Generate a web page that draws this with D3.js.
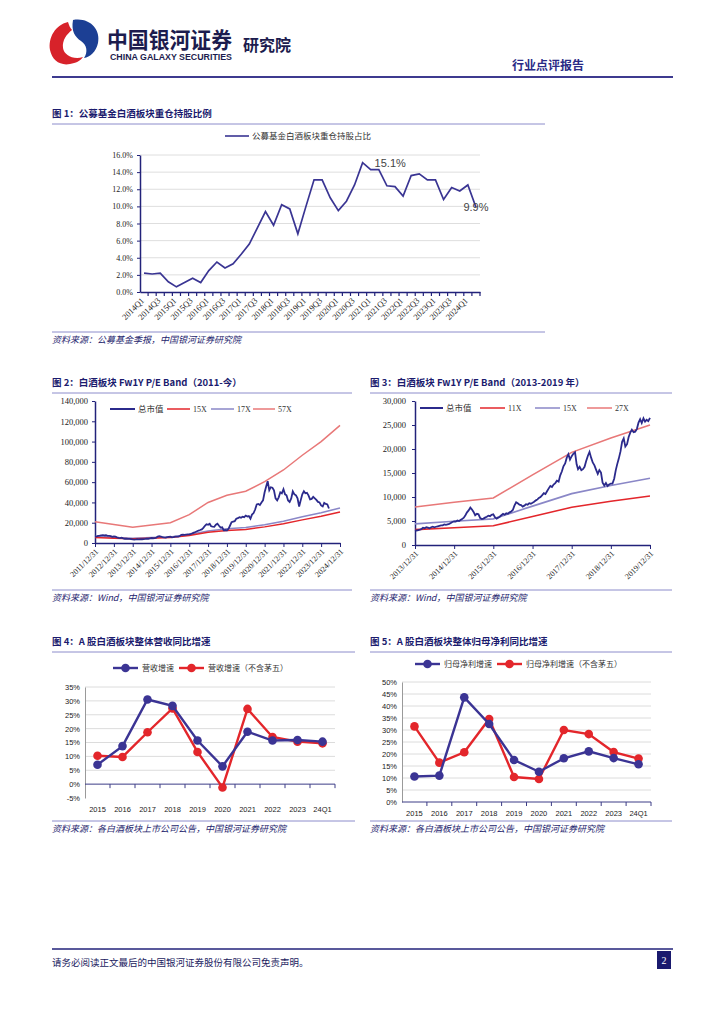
<!DOCTYPE html>
<html>
<head>
<meta charset="utf-8">
<script src="https://cdn.jsdelivr.net/npm/d3@7"></script>
<style>
  body { margin: 0; background: #fff; }
</style>
</head>
<body>
<svg id="page"></svg>
<script>
// ---------- data ----------
// fig 1: fund holdings share of baijiu, quarterly
const quarterLabels = ["2014Q1","2014Q2","2014Q3","2014Q4","2015Q1","2015Q2","2015Q3","2015Q4",
  "2016Q1","2016Q2","2016Q3","2016Q4","2017Q1","2017Q2","2017Q3","2017Q4",
  "2018Q1","2018Q2","2018Q3","2018Q4","2019Q1","2019Q2","2019Q3","2019Q4",
  "2020Q1","2020Q2","2020Q3","2020Q4","2021Q1","2021Q2","2021Q3","2021Q4",
  "2022Q1","2022Q2","2022Q3","2022Q4","2023Q1","2023Q2","2023Q3","2023Q4",
  "2024Q1","2024Q2"];
const fundShare = [2.2,2.1,2.2,1.2,0.6,1.1,1.6,1.1,2.5,3.5,2.8,3.3,4.4,5.6,7.5,9.4,
  7.8,10.2,9.7,6.8,10.0,13.1,13.1,11.0,9.5,10.6,12.5,15.1,14.3,14.3,12.4,12.3,
  11.2,13.6,13.8,13.1,13.1,10.8,12.2,11.8,12.5,9.9];

// fig 2: PE band 2011-now (year-end nodes for bands, month-end market cap)
const bandYears2 = [2011,2012,2013,2014,2015,2016,2017,2018,2019,2020,2021,2022,2023,2024];
const pe15 = [5500,4800,4100,4700,5300,7400,10500,12400,13400,15900,18900,22800,26300,30500];
const pe17 = [6300,5500,4600,5300,6000,8300,11900,14000,15200,18000,21500,25800,29800,34600];
const pe57 = [21000,18300,15500,17800,20000,28000,40000,47000,51000,60500,72000,86500,100000,116000];
const mcap2Start = 6300; // 2011/12/31
const mcap2 = [
  6600,7000,7200,7500,7700,7400,7600,7000,7100,6800,6000,6400,
  6200,5600,5000,4800,5200,4500,4200,4300,4100,4000,3800,3600,
  3400,3500,3700,3600,3800,3700,3900,4000,4300,4200,4600,4900,
  4700,4900,5200,6300,6800,6400,5900,5500,5300,5800,6100,6200,
  5600,5800,6300,6200,6300,6900,8000,8200,8000,8300,8500,8600,
  9000,9500,10200,10800,11600,12300,12800,13400,15000,17000,18500,18000,
  19000,16500,16200,16000,18000,19000,17000,15200,15500,12500,12800,12400,
  14000,17000,20500,21000,21500,24000,24500,25500,25000,26000,25500,27000,
  26000,26500,24000,28000,29500,33000,38000,38500,37500,40000,42000,50000,
  56000,61000,52000,55000,54500,52000,44000,42000,45000,50000,49000,53000,
  48000,47000,42000,40500,44000,51000,48000,47000,44000,36000,42000,48000,
  51000,49000,49500,47000,43000,43500,45500,44000,42500,40500,40000,37000,
  36000,39500,38500,38000,34000];

// fig 3: PE band 2013-2019 (half-month market cap)
const bandYears3 = [2013,2014,2015,2016,2017,2018,2019];
const pe11b = [3200,3600,4000,5950,7850,9100,10200];
const pe15b = [4400,4950,5450,8100,10700,12400,13900];
const pe27b = [7900,8900,9800,14600,19300,22300,25000];
const mcap3Start = 3100; // 2013/12/31
const mcap3 = [
  3000,3100,3200,3300,3600,3500,3700,3600,3500,3700,3800,3700,3800,3900,4000,4100,4100,4300,4200,4300,4400,4600,4800,4900,
  4900,5100,5000,5200,5400,5700,6200,6800,7200,7800,7400,6900,6200,6500,6400,5600,5400,5500,5700,5900,6100,6000,6300,6400,
  5800,5500,5700,5900,6200,6500,6300,6600,6500,6800,7000,7300,8200,8900,8700,8400,8300,8000,8200,8500,8400,8700,8600,8800,
  9000,9300,9500,9800,10000,10400,10800,10600,11200,11800,12300,12100,12600,12900,13400,13200,14500,15300,16400,17000,18200,18900,17800,18500,
  19000,19300,16800,15800,16300,15600,15800,16300,17500,18600,19400,18200,17200,16600,15700,14800,15600,15100,13000,12400,12900,12300,12600,12800,
  12800,13800,15600,16800,18000,19500,21500,22200,20500,21000,22500,23400,24000,23500,23600,24200,25500,26200,25400,26400,25700,26100,25800,26500];

// fig 4 / fig 5: yearly growth (%)
const periods = ["2015","2016","2017","2018","2019","2020","2021","2022","2023","24Q1"];
const revGrowth = [7.0,13.7,30.5,28.2,15.7,6.4,18.9,15.7,15.9,15.3];
const revGrowthEx = [10.2,9.8,18.7,27.3,11.6,-1.2,27.1,17.0,15.3,14.7];
const profitGrowth = [10.6,11.0,43.6,32.5,17.5,12.6,18.2,21.1,18.3,15.7];
const profitGrowthEx = [31.5,16.4,20.7,34.6,10.4,9.6,30.0,28.3,20.8,18.1];

// ---------- page ----------
const w = 724, h = 1024;
const svg = d3.select("#page").attr("width", w).attr("height", h);
svg.append("rect").attr("width", w).attr("height", h).attr("fill", "#fff");

const NAVY = "#22227a";
const TITLE = "#1b1b6e";
const RULE = "#8c8ccb";
const serif = "'Liberation Serif', 'Times New Roman', serif";
const sans = "'Liberation Sans', Arial, sans-serif";
const cjk = "'Noto Sans CJK SC', sans-serif";

// header
svg.append("path").attr("fill", "#d7222a")
  .attr("d", "M68,22 C55,25 48,38 50,50 C52,60 60,66 70,64 C76,63 80,61 83,57 C73,60 64,55 63,48 C62,40 67,34 72,30 C70,28 69,25 68,22 Z");
svg.append("path").attr("fill", "#1c3f94")
  .attr("d", "M73,20 C89,17 101,29 98,43 C96,52 90,57 84,58 C88,52 87,45 81,41 C75,37 71,31 73,20 Z");
svg.append("text").attr("x", 107).attr("y", 48).text("中国银河证券")
  .attr("font-family", cjk).attr("font-weight", "bold").attr("font-size", 22)
  .attr("textLength", 125).attr("lengthAdjust", "spacingAndGlyphs").attr("fill", "#1c1c4e");
svg.append("text").attr("x", 110).attr("y", 60).text("CHINA GALAXY SECURITIES")
  .attr("font-family", sans).attr("font-weight", "bold").attr("font-size", 9)
  .attr("textLength", 122).attr("lengthAdjust", "spacingAndGlyphs").attr("fill", "#1c1c4e");
svg.append("text").attr("x", 243).attr("y", 51).text("研究院")
  .attr("font-family", cjk).attr("font-weight", "bold").attr("font-size", 16).attr("fill", "#1c1c4e");
svg.append("text").attr("x", 512).attr("y", 70).text("行业点评报告")
  .attr("font-family", cjk).attr("font-weight", "bold").attr("font-size", 12).attr("fill", "#2a2a86");
svg.append("line").attr("x1", 52).attr("x2", 673).attr("y1", 77).attr("y2", 77)
  .attr("stroke", "#3d3a8f").attr("stroke-width", 2);

// footer
svg.append("line").attr("x1", 52).attr("x2", 673).attr("y1", 949).attr("y2", 949)
  .attr("stroke", NAVY).attr("stroke-width", 1.5);
svg.append("text").attr("x", 52).attr("y", 966).text("请务必阅读正文最后的中国银河证券股份有限公司免责声明。")
  .attr("font-family", cjk).attr("font-size", 9.5).attr("fill", "#1a1a5e");
svg.append("rect").attr("x", 657).attr("y", 951).attr("width", 14).attr("height", 18).attr("fill", "#1a1a6e");
svg.append("text").attr("x", 664).attr("y", 964).text("2").attr("text-anchor", "middle")
  .attr("font-family", serif).attr("font-size", 10).attr("fill", "#fff");

// ---------- helpers ----------
function title(x, y, x2, txt) {
  svg.append("text").attr("x", x).attr("y", y).text(txt)
    .attr("font-family", cjk).attr("font-weight", "bold").attr("font-size", 9.5).attr("fill", TITLE);
  svg.append("line").attr("x1", x).attr("x2", x2).attr("y1", y + 7).attr("y2", y + 7)
    .attr("stroke", RULE).attr("stroke-width", 1);
}
function source(x, y, x2, txt) {
  svg.append("line").attr("x1", x).attr("x2", x2).attr("y1", y - 8).attr("y2", y - 8)
    .attr("stroke", RULE).attr("stroke-width", 1);
  svg.append("text").attr("x", x).attr("y", y + 3).text(txt)
    .attr("font-family", cjk).attr("font-style", "italic").attr("font-size", 9).attr("fill", "#1e1e6e");
}
function styleAxis(g, font, size, domainColor, domainWidth) {
  g.attr("font-family", font).attr("font-size", size);
  g.selectAll("text").attr("fill", "#222");
  g.select(".domain").attr("stroke", domainColor).attr("stroke-width", domainWidth);
  g.selectAll(".tick line").attr("stroke", domainColor);
}
function legendLine(x, y, len, color, width, label, font, size) {
  svg.append("line").attr("x1", x).attr("x2", x + len).attr("y1", y).attr("y2", y)
    .attr("stroke", color).attr("stroke-width", width);
  svg.append("text").attr("x", x + len + 3).attr("y", y).attr("dy", "0.35em").text(label)
    .attr("font-family", font).attr("font-size", size).attr("fill", "#333");
}

// ---------- fig 1 ----------
title(52, 117, 545, "图 1：公募基金白酒板块重仓持股比例");
legendLine(225, 136, 24, "#3a3593", 1.6, "公募基金白酒板块重仓持股占比", cjk, 8.5);

const x1 = d3.scaleBand().domain(quarterLabels).range([140, 480]);
const y1 = d3.scaleLinear().domain([0, 16]).range([292, 155]);
const cx1 = d => x1(d) + x1.bandwidth() / 2;

svg.append("g").selectAll("line").data(d3.range(2, 17, 2)).join("line")
  .attr("x1", 140).attr("x2", 480).attr("y1", d => y1(d)).attr("y2", d => y1(d))
  .attr("stroke", "#dedede");

const yAxis1 = svg.append("g").attr("transform", "translate(140,0)")
  .call(d3.axisLeft(y1).tickValues(d3.range(0, 17, 2)).tickFormat(d => d.toFixed(1) + "%")
    .tickSize(3).tickSizeOuter(0).tickPadding(4));
styleAxis(yAxis1, serif, 8, NAVY, 1.5);

const xAxis1 = svg.append("g").attr("transform", "translate(0,292)")
  .call(d3.axisBottom(x1).tickSize(0).tickSizeOuter(0).tickFormat((d, i) => i % 2 === 0 ? d : ""));
styleAxis(xAxis1, serif, 8.5, NAVY, 1.5);
xAxis1.selectAll("text").attr("x", -6).attr("y", 4).attr("dy", "0.35em")
  .attr("text-anchor", "end").attr("transform", "rotate(-45)");
svg.append("g").selectAll("line").data(quarterLabels).join("line")
  .attr("x1", d => x1(d) + x1.bandwidth()).attr("x2", d => x1(d) + x1.bandwidth())
  .attr("y1", 292).attr("y2", 296).attr("stroke", NAVY).attr("stroke-width", 1.2);

svg.append("path").datum(fundShare)
  .attr("fill", "none").attr("stroke", "#3a3593").attr("stroke-width", 1.7)
  .attr("d", d3.line().x((d, i) => cx1(quarterLabels[i])).y(d => y1(d)));

const peakIdx = fundShare.indexOf(d3.max(fundShare));
svg.append("text").attr("x", cx1(quarterLabels[peakIdx]) + 12).attr("y", y1(fundShare[peakIdx]))
  .attr("dy", "0.35em").text(fundShare[peakIdx].toFixed(1) + "%")
  .attr("font-family", sans).attr("font-size", 11).attr("fill", "#444");
const lastIdx = fundShare.length - 1;
svg.append("text").attr("x", cx1(quarterLabels[lastIdx])).attr("y", y1(fundShare[lastIdx]))
  .attr("dy", "0.35em").attr("text-anchor", "middle").text(fundShare[lastIdx].toFixed(1) + "%")
  .attr("font-family", sans).attr("font-size", 11).attr("fill", "#444");

source(52, 340, 545, "资料来源：公募基金季报，中国银河证券研究院");

// ---------- fig 2 ----------
title(52, 386, 352, "图 2：白酒板块 Fw1Y P/E Band（2011-今）");

const x2 = d3.scaleTime().domain([new Date(2011, 11, 31), new Date(2024, 11, 31)]).range([95, 340]);
const y2 = d3.scaleLinear().domain([0, 140000]).range([543, 401]);
const yearEnds2 = bandYears2.map(y => new Date(y, 11, 31));

const yAxis2 = svg.append("g").attr("transform", "translate(95,0)")
  .call(d3.axisLeft(y2).tickValues(d3.range(0, 140001, 20000)).tickFormat(d3.format(","))
    .tickSize(3).tickSizeOuter(0).tickPadding(4));
styleAxis(yAxis2, serif, 8.5, NAVY, 1.5);
const xAxis2 = svg.append("g").attr("transform", "translate(0,543)")
  .call(d3.axisBottom(x2).tickValues(yearEnds2).tickFormat(d3.timeFormat("%Y/%m/%d"))
    .tickSize(4).tickSizeOuter(0));
styleAxis(xAxis2, serif, 8, NAVY, 1.5);
xAxis2.selectAll("text").attr("x", -4).attr("y", 6).attr("dy", "0.35em")
  .attr("text-anchor", "end").attr("transform", "rotate(-45)");

const line2 = d3.line().x(d => x2(d[0])).y(d => y2(d[1]));
const band2 = arr => arr.map((v, i) => [yearEnds2[i], v]);
svg.append("path").datum(band2(pe57)).attr("fill", "none").attr("stroke", "#e87878").attr("stroke-width", 1.5).attr("d", line2);
svg.append("path").datum(band2(pe17)).attr("fill", "none").attr("stroke", "#8a87c7").attr("stroke-width", 1.5).attr("d", line2);
svg.append("path").datum(band2(pe15)).attr("fill", "none").attr("stroke", "#e3262b").attr("stroke-width", 1.5).attr("d", line2);
const mcap2Data = [[new Date(2011, 11, 31), mcap2Start]]
  .concat(mcap2.map((v, i) => [new Date(2012, i + 1, 0), v]));
svg.append("path").datum(mcap2Data).attr("fill", "none").attr("stroke", "#2b2a8c").attr("stroke-width", 1.8).attr("d", line2);

legendLine(110, 409, 25, "#2b2a8c", 2, "总市值", cjk, 8.5);
legendLine(167, 409, 23, "#e3262b", 1.5, "15X", serif, 8);
legendLine(211, 409, 23, "#8a87c7", 1.5, "17X", serif, 8);
legendLine(253, 409, 22, "#e87878", 1.5, "57X", serif, 8);

source(52, 598, 352, "资料来源：Wind，中国银河证券研究院");

// ---------- fig 3 ----------
title(370, 386, 672, "图 3：白酒板块 Fw1Y P/E Band（2013-2019 年）");

const x3 = d3.scaleTime().domain([new Date(2013, 11, 31), new Date(2019, 11, 31)]).range([415, 650]);
const y3 = d3.scaleLinear().domain([0, 30000]).range([545, 401]);
const yearEnds3 = bandYears3.map(y => new Date(y, 11, 31));

const yAxis3 = svg.append("g").attr("transform", "translate(415,0)")
  .call(d3.axisLeft(y3).tickValues(d3.range(0, 30001, 5000)).tickFormat(d3.format(","))
    .tickSize(3).tickSizeOuter(0).tickPadding(6));
styleAxis(yAxis3, serif, 8.5, NAVY, 1.5);
const xAxis3 = svg.append("g").attr("transform", "translate(0,545)")
  .call(d3.axisBottom(x3).tickValues(yearEnds3).tickFormat(d3.timeFormat("%Y/%m/%d"))
    .tickSize(4).tickSizeOuter(0));
styleAxis(xAxis3, serif, 8, NAVY, 1.5);
xAxis3.selectAll("text").attr("x", -4).attr("y", 6).attr("dy", "0.35em")
  .attr("text-anchor", "end").attr("transform", "rotate(-45)");

const line3 = d3.line().x(d => x3(d[0])).y(d => y3(d[1]));
const band3 = arr => arr.map((v, i) => [yearEnds3[i], v]);
svg.append("path").datum(band3(pe27b)).attr("fill", "none").attr("stroke", "#e87878").attr("stroke-width", 1.6).attr("d", line3);
svg.append("path").datum(band3(pe15b)).attr("fill", "none").attr("stroke", "#8a87c7").attr("stroke-width", 1.6).attr("d", line3);
svg.append("path").datum(band3(pe11b)).attr("fill", "none").attr("stroke", "#e3262b").attr("stroke-width", 1.6).attr("d", line3);
const mcap3Data = [[new Date(2013, 11, 31), mcap3Start]]
  .concat(mcap3.map((v, i) => {
    const m = Math.floor(i / 2);
    return [i % 2 === 0 ? new Date(2014, m, 15) : new Date(2014, m + 1, 0), v];
  }));
svg.append("path").datum(mcap3Data).attr("fill", "none").attr("stroke", "#2b2a8c").attr("stroke-width", 1.8).attr("d", line3);

legendLine(420, 408, 23, "#2b2a8c", 2, "总市值", cjk, 8.5);
legendLine(480, 408, 25, "#e3262b", 1.5, "11X", serif, 8);
legendLine(535, 408, 25, "#8a87c7", 1.5, "15X", serif, 8);
legendLine(587, 408, 25, "#e87878", 1.5, "27X", serif, 8);

source(370, 598, 672, "资料来源：Wind，中国银河证券研究院");

// ---------- fig 4 / fig 5 ----------
function growthChart(opt) {
  const x = d3.scaleBand().domain(periods).range([opt.left, opt.right]);
  const y = d3.scaleLinear().domain(opt.domain).range([opt.bottom, opt.top]);
  const cx = d => x(d) + x.bandwidth() / 2;
  const ticks = d3.range(opt.domain[0], opt.domain[1] + 1, 5);

  svg.append("g").selectAll("line").data(ticks.filter(t => t !== 0 && t !== opt.domain[0])).join("line")
    .attr("x1", opt.left).attr("x2", opt.right).attr("y1", d => y(d)).attr("y2", d => y(d))
    .attr("stroke", "#dcdcdc");

  const ya = svg.append("g").attr("transform", `translate(${opt.left},0)`)
    .call(d3.axisLeft(y).tickValues(ticks).tickFormat(d => d + "%").tickSize(0).tickPadding(5));
  styleAxis(ya, sans, 7.5, "#9a9a9a", 1);

  const xa = svg.append("g").attr("transform", `translate(0,${opt.bottom})`)
    .call(d3.axisBottom(x).tickSize(0).tickSizeOuter(0));
  styleAxis(xa, sans, 7.5, "none", 0);
  xa.selectAll("text").attr("y", opt.labelGap).attr("dy", "0.35em");

  // zero line with ticks between categories
  svg.append("line").attr("x1", opt.left).attr("x2", opt.right).attr("y1", y(0)).attr("y2", y(0))
    .attr("stroke", "#3c3c86").attr("stroke-width", 1);
  svg.append("g").selectAll("line").data(periods).join("line")
    .attr("x1", d => x(d) + x.bandwidth()).attr("x2", d => x(d) + x.bandwidth())
    .attr("y1", y(0)).attr("y2", y(0) + 4).attr("stroke", "#3c3c86");

  const line = d3.line().x((d, i) => cx(periods[i])).y(d => y(d));
  [[opt.ex, "#e3262b"], [opt.all, "#3b3494"]].forEach(([vals, color]) => {
    svg.append("path").datum(vals).attr("fill", "none").attr("stroke", color)
      .attr("stroke-width", 2.4).attr("d", line);
    svg.append("g").selectAll("circle").data(vals).join("circle")
      .attr("cx", (d, i) => cx(periods[i])).attr("cy", d => y(d)).attr("r", 4.3).attr("fill", color);
  });
}

function markerLegend(x, y, color, label) {
  svg.append("line").attr("x1", x).attr("x2", x + 25).attr("y1", y).attr("y2", y)
    .attr("stroke", color).attr("stroke-width", 2.4);
  svg.append("circle").attr("cx", x + 12.5).attr("cy", y).attr("r", 4.3).attr("fill", color);
  svg.append("text").attr("x", x + 29).attr("y", y).attr("dy", "0.35em").text(label)
    .attr("font-family", cjk).attr("font-size", 8).attr("fill", "#333");
}

title(52, 645, 355, "图 4：A 股白酒板块整体营收同比增速");
markerLegend(113, 668, "#3b3494", "营收增速");
markerLegend(179, 668, "#e3262b", "营收增速（不含茅五）");
growthChart({ left: 85, right: 335, top: 687, bottom: 798, domain: [-5, 35],
  all: revGrowth, ex: revGrowthEx, labelGap: 11 });
source(52, 829, 355, "资料来源：各白酒板块上市公司公告，中国银河证券研究院");

title(370, 645, 672, "图 5：A 股白酒板块整体归母净利同比增速");
markerLegend(415, 664, "#3b3494", "归母净利增速");
markerLegend(497, 664, "#e3262b", "归母净利增速（不含茅五）");
growthChart({ left: 402, right: 651, top: 682, bottom: 802, domain: [0, 50],
  all: profitGrowth, ex: profitGrowthEx, labelGap: 11 });
source(370, 829, 672, "资料来源：各白酒板块上市公司公告，中国银河证券研究院");
</script>
</body>
</html>
